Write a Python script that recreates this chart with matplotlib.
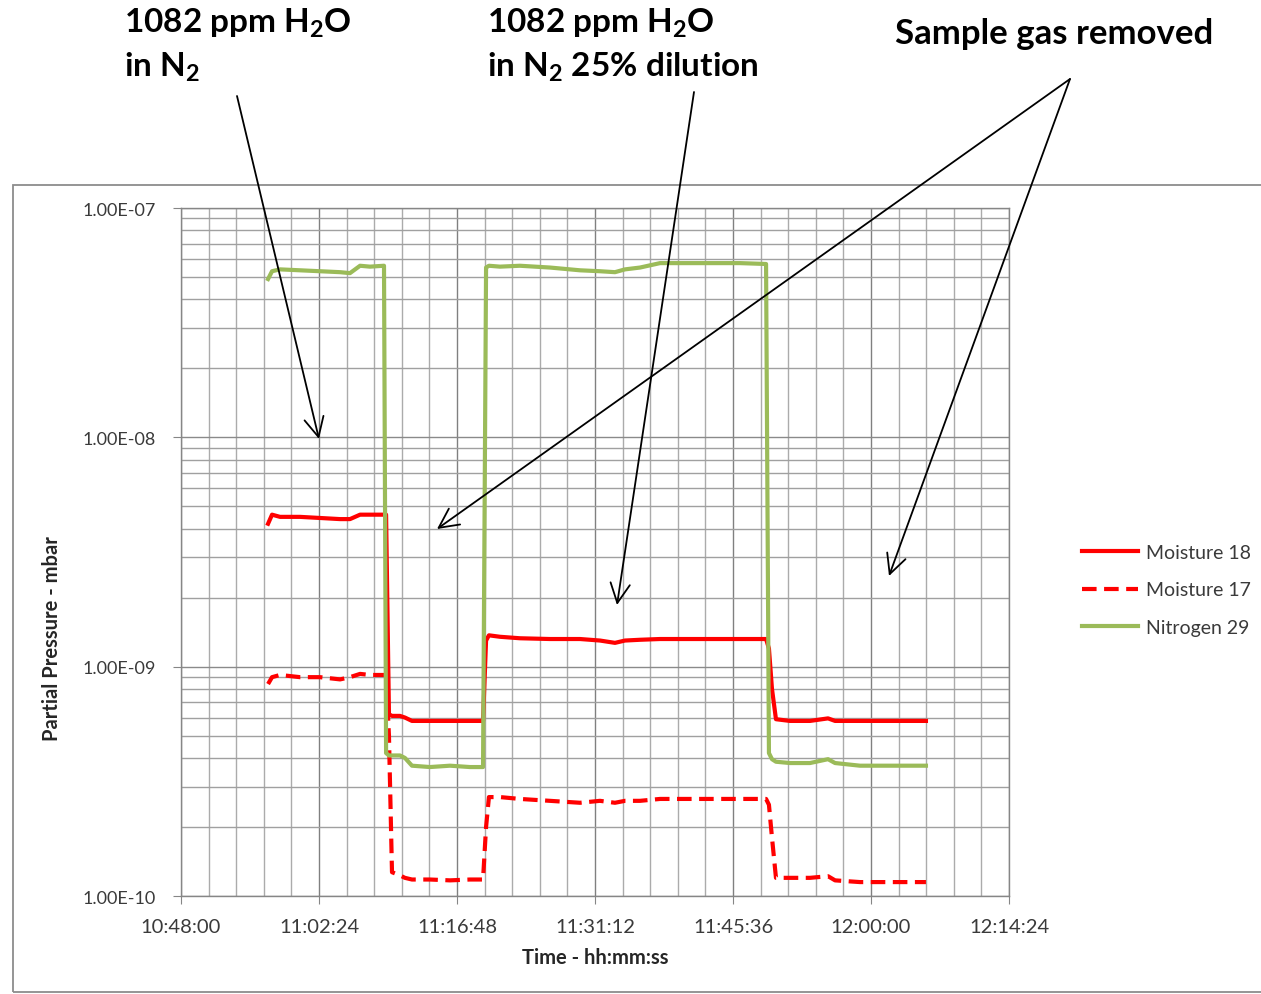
import pandas as pd
import matplotlib.pyplot as plt
import matplotlib.dates as mdates
from matplotlib.ticker import FixedLocator, FuncFormatter, LogLocator, NullFormatter
from matplotlib.patches import Rectangle, FancyArrowPatch

plt.rcParams['font.family'] = ['Lato', 'DejaVu Sans']
plt.rcParams['mathtext.default'] = 'regular'

# sample times (hh:mm:ss) and partial pressures (mbar)
times = ['10:57:05', '10:57:30', '10:58:20', '11:00:25', '11:02:30', '11:04:36',
         '11:05:38', '11:06:41', '11:07:43', '11:09:11', '11:09:24', '11:09:42',
         '11:10:01', '11:10:51', '11:11:22', '11:12:06', '11:13:59', '11:16:04',
         '11:18:09', '11:19:31', '11:19:50', '11:20:08', '11:21:17', '11:23:22',
         '11:26:30', '11:29:38', '11:31:43', '11:33:17', '11:34:20', '11:35:54',
         '11:37:59', '11:42:09', '11:46:20', '11:49:03', '11:49:21', '11:49:40',
         '11:50:05', '11:51:33', '11:53:38', '11:55:31', '11:56:15', '11:58:51',
         '12:01:59', '12:05:44']

moisture_18 = [4.2e-9, 4.6e-9, 4.5e-9, 4.5e-9, 4.45e-9, 4.4e-9,
               4.4e-9, 4.6e-9, 4.6e-9, 4.6e-9, 4.6e-9, 6.2e-10,
               6.1e-10, 6.1e-10, 6.0e-10, 5.8e-10, 5.8e-10, 5.8e-10,
               5.8e-10, 5.8e-10, 1.3e-9, 1.37e-9, 1.35e-9, 1.33e-9,
               1.32e-9, 1.32e-9, 1.3e-9, 1.27e-9, 1.3e-9, 1.31e-9,
               1.32e-9, 1.32e-9, 1.32e-9, 1.32e-9, 1.2e-9, 8.0e-10,
               5.9e-10, 5.8e-10, 5.8e-10, 5.95e-10, 5.8e-10, 5.8e-10,
               5.8e-10, 5.8e-10]

moisture_17 = [8.4e-10, 9.0e-10, 9.2e-10, 9.0e-10, 9.0e-10, 8.8e-10,
               9.0e-10, 9.3e-10, 9.2e-10, 9.2e-10, 9.2e-10, 5.0e-10,
               1.27e-10, 1.23e-10, 1.2e-10, 1.18e-10, 1.18e-10, 1.17e-10,
               1.18e-10, 1.18e-10, 2.0e-10, 2.7e-10, 2.7e-10, 2.65e-10,
               2.6e-10, 2.55e-10, 2.6e-10, 2.55e-10, 2.6e-10, 2.6e-10,
               2.65e-10, 2.65e-10, 2.65e-10, 2.65e-10, 2.5e-10, 1.8e-10,
               1.2e-10, 1.2e-10, 1.2e-10, 1.22e-10, 1.17e-10, 1.15e-10,
               1.15e-10, 1.15e-10]

nitrogen_29 = [4.9e-8, 5.3e-8, 5.4e-8, 5.35e-8, 5.3e-8, 5.25e-8,
               5.2e-8, 5.6e-8, 5.55e-8, 5.6e-8, 4.2e-10, 4.1e-10,
               4.1e-10, 4.1e-10, 4.0e-10, 3.7e-10, 3.65e-10, 3.7e-10,
               3.65e-10, 3.65e-10, 5.5e-8, 5.6e-8, 5.55e-8, 5.6e-8,
               5.5e-8, 5.35e-8, 5.3e-8, 5.25e-8, 5.4e-8, 5.5e-8,
               5.75e-8, 5.75e-8, 5.75e-8, 5.7e-8, 4.2e-10, 3.95e-10,
               3.85e-10, 3.8e-10, 3.8e-10, 3.95e-10, 3.8e-10, 3.7e-10,
               3.7e-10, 3.7e-10]

decades = [1e-10, 1e-9, 1e-8, 1e-7]

t = pd.to_datetime(['2013-01-01 ' + s for s in times])

W, H = 1261, 995
fig = plt.figure(figsize=(W / 100, H / 100), dpi=100)


def fx(x):
    return x / W


def fy(y):
    return 1 - y / H


# chart frame
fig.add_artist(Rectangle((fx(13), fy(993)), 1.0, fy(186) - fy(993),
                         transform=fig.transFigure, fill=False,
                         ec='#8c8c8c', lw=1.3))

ax = fig.add_axes([fx(181), fy(897), fx(1009) - fx(181), fy(209) - fy(897)])

red = '#ff0000'
green = '#9bbb59'
ax.plot(t, moisture_18, color=red, lw=3.0, label='Moisture 18')
ax.plot(t, moisture_17, color=red, lw=3.0, ls=(0, (3.5, 1.8)), label='Moisture 17')
ax.plot(t, nitrogen_29, color=green, lw=3.0, label='Nitrogen 29')

ax.set_yscale('log')
ax.set_ylim(1e-10, 1e-7)
start = pd.Timestamp('2013-01-01 10:48:00')
end = pd.Timestamp('2013-01-01 12:14:24')
ax.set_xlim(start, end)
ax.set_xticks(mdates.date2num(pd.date_range(start, end, freq='864s')))
ax.set_xticks(mdates.date2num(pd.date_range(start, end, freq='172800ms')), minor=True)
ax.xaxis.set_major_formatter(mdates.DateFormatter('%H:%M:%S'))

ax.yaxis.set_major_locator(FixedLocator(decades))
ax.yaxis.set_major_formatter(FuncFormatter(lambda v, p: f'{v:.2E}'))
ax.yaxis.set_minor_locator(LogLocator(base=10, subs=range(2, 10)))
ax.yaxis.set_minor_formatter(NullFormatter())

ax.grid(which='major', axis='x', color='#808080', lw=1)
ax.grid(which='minor', axis='x', color='#ababab', lw=1)
ax.grid(which='major', axis='y', color='#8a8a8a', lw=1)
ax.grid(which='minor', axis='y', color='#a0a0a0', lw=1)
ax.set_axisbelow(True)

for s in ax.spines.values():
    s.set_color('#868686')
    s.set_linewidth(1)
ax.tick_params(which='major', length=6, color='#868686', labelsize=13,
               labelcolor='#3a3a3a')
ax.tick_params(axis='x', labelsize=14.5, pad=10)
ax.tick_params(axis='y', pad=12)
ax.tick_params(which='minor', length=0)

fig.text(fx(595), fy(958), 'Time - hh:mm:ss', ha='center', va='center',
         fontsize=14.5, fontweight='bold', color='#262626')
fig.text(fx(52), fy(639), 'Partial Pressure - mbar', ha='center', va='center',
         rotation=90, fontsize=14.5, fontweight='bold', color='#262626')

fig.legend(loc='center left', bbox_to_anchor=(fx(1074), fy(591)), frameon=False,
           fontsize=14, handlelength=2.9, handletextpad=0.4, labelspacing=1.05,
           labelcolor='#3a3a3a', borderaxespad=0)

# annotations
big = dict(fontsize=24, fontweight='bold', color='black', va='baseline', ha='left')
fig.text(fx(124), fy(33), '1082 ppm H$_2$O', **big)
fig.text(fx(124), fy(77), 'in N$_2$', **big)
fig.text(fx(487), fy(33), '1082 ppm H$_2$O', **big)
fig.text(fx(487), fy(77), 'in N$_2$ 25% dilution', **big)
fig.text(fx(895), fy(44), 'Sample gas removed', fontsize=25, fontweight='bold',
         color='black', va='baseline', ha='left')

arrows = [((237, 97), (319, 440)),
          ((694, 93), (617, 606)),
          ((1070, 80), (437, 530)),
          ((1070, 80), (889, 577))]
for a, b in arrows:
    fig.add_artist(FancyArrowPatch((fx(a[0]), fy(a[1])), (fx(b[0]), fy(b[1])),
                                   transform=fig.transFigure,
                                   arrowstyle='->,head_length=0.7,head_width=0.35',
                                   mutation_scale=20, lw=1.3, color='black',
                                   shrinkA=0, shrinkB=0))

fig.savefig('out.png', dpi=100)
